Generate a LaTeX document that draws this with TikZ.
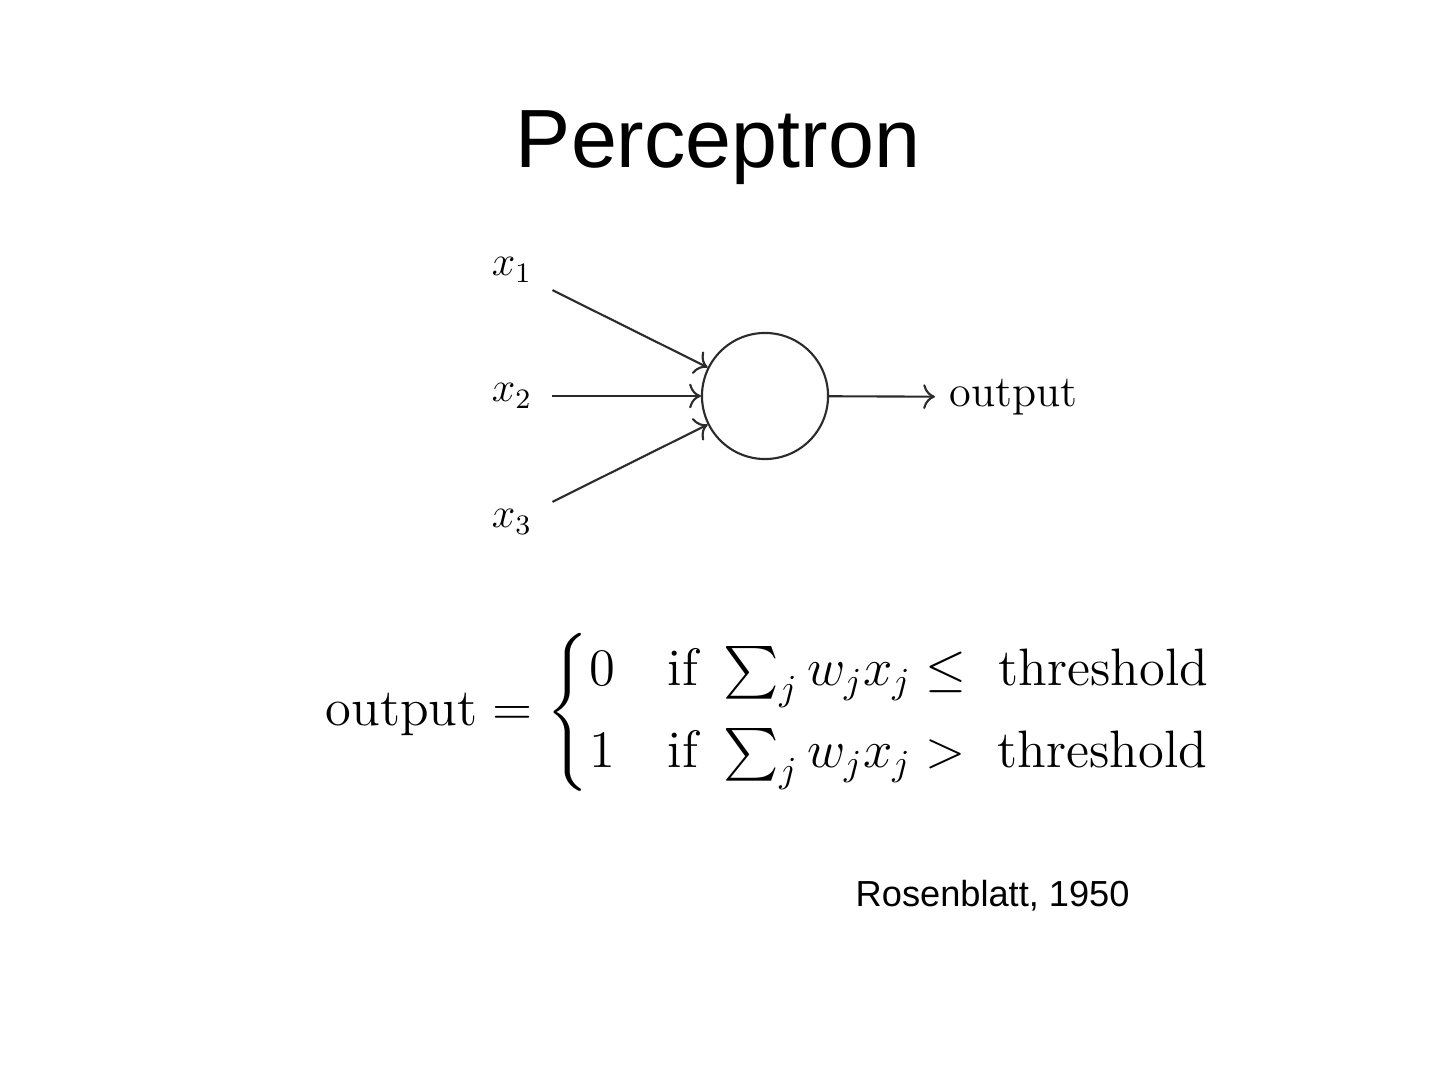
\documentclass[tikz,border=0pt]{standalone}
\usepackage{amsmath}
\usepackage{fontspec}
\usetikzlibrary{arrows.meta, positioning}
\newfontfamily\slidefont{Liberation Sans}
\definecolor{inkdark}{HTML}{2B2B2B}

\begin{document}
\begin{tikzpicture}[x=0.01cm, y=-0.01cm,
    wire/.style={inkdark, line width=0.6pt, -{To[scale=1.15]}},
    input/.style={inner sep=5.6pt, font=\fontsize{12}{14}\selectfont},
    neuron/.style={draw=inkdark, circle, line width=0.6pt,
                   minimum size=1.26cm, inner sep=0pt}]
  \useasboundingbox (0,0) rectangle (1440,1080);
  \node[anchor=base, font=\slidefont\fontsize{23.5}{28}\selectfont]
    (title) at (718,168) {Perceptron};
  \node[neuron] (n) at (765,396) {};
  \foreach \i/\yy in {1/270, 2/396, 3/522}{%
    \node[input] (x\i) at (512,\yy) {$x_{\i}$};
    \draw[wire] (x\i) -- (n);}
  \node[anchor=west, inner sep=3.8pt, scale=1.05, transform shape,
        font=\fontsize{12}{14}\selectfont]
    (out) at (935,397) {output};
  \draw[wire] (n) -- (out);
  % decision rule
  \node[anchor=west, inner sep=0pt, scale=1.04, transform shape,
        font=\fontsize{14.4}{17}\selectfont]
    (rule) at (325,712) {$\text{output} = \begin{cases}
      0 & \text{if } \sum_j w_j x_j \leq \text{ threshold}\\[2pt]
      1 & \text{if } \sum_j w_j x_j > \text{ threshold}
    \end{cases}$};
  \node[anchor=base west, inner sep=0pt,
        font=\slidefont\fontsize{10.3}{12}\selectfont]
    (cite) at (855,906) {Rosenblatt, 1950};
\end{tikzpicture}
\end{document}
